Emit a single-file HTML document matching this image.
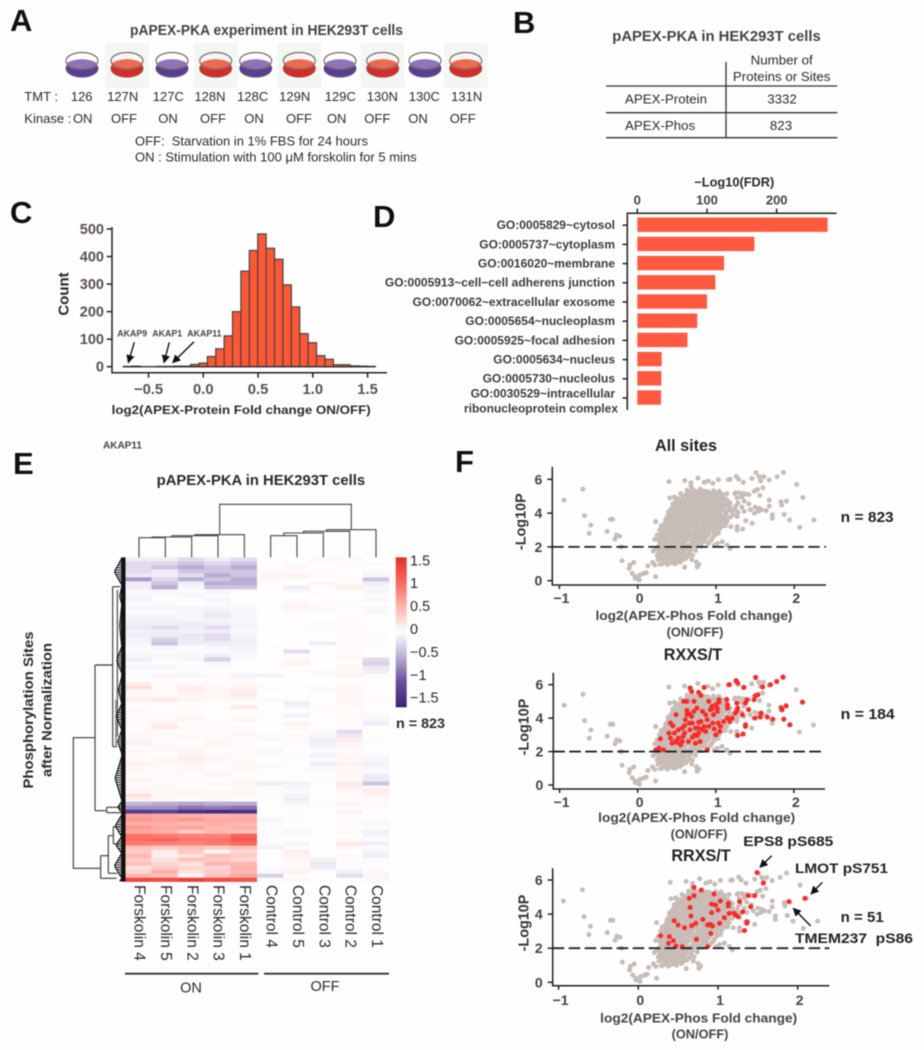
<!DOCTYPE html>
<html lang="en">
<head>
<meta charset="utf-8">
<title>pAPEX-PKA figure</title>
<style>
html,body{margin:0;padding:0;background:#fefefe;}
svg{display:block;filter:blur(.5px);}
text{font-family:"Liberation Sans",sans-serif;fill:#2a2a2a;}
.b{font-weight:bold;}
.panel{font-weight:bold;font-size:31px;fill:#111;}
</style>
</head>
<body>
<svg id="fig" xmlns="http://www.w3.org/2000/svg" width="924" height="1050" viewBox="0 0 924 1050">
<defs>
<marker id="ah" viewBox="0 0 10 10" refX="9" refY="5" markerWidth="6" markerHeight="6" orient="auto-start-reverse"><path d="M0,0 L10,5 L0,10 Z" fill="#111"/></marker>
<linearGradient id="cbar" x1="0" y1="0" x2="0" y2="1">
<stop offset="0" stop-color="#e3302a"/><stop offset=".17" stop-color="#fb6a60"/><stop offset=".335" stop-color="#ffb7b0"/><stop offset=".5" stop-color="#ffffff"/><stop offset=".665" stop-color="#b9aed4"/><stop offset=".83" stop-color="#6a4f9e"/><stop offset="1" stop-color="#3b2173"/>
</linearGradient>
</defs>
<rect x="0" y="0" width="924" height="1050" fill="#fefefe"/>

<!-- Panel letters -->
<text class="panel" x="10" y="31">A</text>
<text class="panel" x="513" y="33">B</text>
<text class="panel" x="10" y="223">C</text>
<text class="panel" x="373" y="227">D</text>
<text class="panel" x="13" y="474">E</text>
<text class="panel" x="455" y="472">F</text>

<!-- Panel A -->
<text class="b" x="130" y="35" font-size="14.5" textLength="273" lengthAdjust="spacingAndGlyphs" style="fill:#444">pAPEX-PKA experiment in HEK293T cells</text>
<g id="dishes"></g>
<text x="24.3" y="101" font-size="13">TMT :</text>
<text x="24.3" y="123" font-size="13">Kinase :</text>
<text x="135" y="145.5" font-size="12.5" textLength="233" lengthAdjust="spacingAndGlyphs">OFF:&#160; Starvation in 1% FBS for 24 hours</text>
<text x="135" y="161.5" font-size="12.5" textLength="281.7" lengthAdjust="spacingAndGlyphs">ON : Stimulation with 100 μM forskolin for 5 mins</text>

<!-- Panel B -->
<g>
<text class="b" x="612.3" y="41" font-size="14.7" textLength="208.4" lengthAdjust="spacingAndGlyphs" style="fill:#444">pAPEX-PKA in HEK293T cells</text>
<path d="M726,62V137.7M606,86H837.3M606,112.7H837.3M606,137.7H837.3" stroke="#333" stroke-width="1.3" fill="none"/>
<text x="781.7" y="64.5" font-size="13.3" text-anchor="middle">Number of</text>
<text x="781.7" y="81" font-size="13.3" text-anchor="middle">Proteins or Sites</text>
<text x="625" y="103.3" font-size="13.3">APEX-Protein</text>
<text x="782" y="103.3" font-size="13.3" text-anchor="middle">3332</text>
<text x="625" y="130" font-size="13.3">APEX-Phos</text>
<text x="781" y="130" font-size="13.3" text-anchor="middle">823</text>
</g>

<!-- Panel C -->
<g id="hist"></g>
<text class="b" x="68.5" y="294" font-size="15" text-anchor="middle" transform="rotate(-90 68.5 294)">Count</text>
<text class="b" x="111.7" y="414" font-size="12.2" textLength="259" lengthAdjust="spacingAndGlyphs">log2(APEX-Protein Fold change ON/OFF)</text>
<text class="b" x="117.3" y="336.5" font-size="8.8" style="fill:#444">AKAP9</text>
<text class="b" x="152.3" y="336.5" font-size="8.8" style="fill:#444">AKAP1</text>
<text class="b" x="187.3" y="336.5" font-size="8.8" style="fill:#444">AKAP11</text>
<path d="M134.3,342.3L128.3,362.7" stroke="#111" stroke-width="1.4" marker-end="url(#ah)"/>
<path d="M169.3,342.3L164,362.7" stroke="#111" stroke-width="1.4" marker-end="url(#ah)"/>
<path d="M194,341.7L172.7,362.7" stroke="#111" stroke-width="1.4" marker-end="url(#ah)"/>

<!-- Panel D -->
<g id="gobars"></g>
<text class="b" x="734.3" y="186.5" font-size="12.8" text-anchor="middle">−Log10(FDR)</text>

<!-- Stray label -->
<text class="b" x="103" y="448.5" font-size="10" style="fill:#444">AKAP11</text>

<!-- Panel E -->
<text class="b" x="156.7" y="485" font-size="14.7" textLength="208.4" lengthAdjust="spacingAndGlyphs">pAPEX-PKA in HEK293T cells</text>
<g id="heat"></g>
<g id="rowtree" transform="translate(10,490) scale(.33333)" fill="none" stroke="#3a3a3a" stroke-width="3.4">
<path d="M272,1135H190V743H255M255,525V962M255,525H308M308,290V770M308,290H330M308,770H322M255,962H290M290,952V968M290,952H330M290,968H335M272,1097V1165M272,1097H295M272,1165H320M295,1037V1150M295,1037H310M295,1150H322M310,1010V1062M310,1010H330M310,1062H328M322,300V640M322,640V740"/>
<path d="M318,630V770" stroke="#888" stroke-width="5"/>
<path id="rowcomb" stroke="#111" stroke-width="3.2"/>
<path d="M340,202V1175" stroke="#111" stroke-width="13"/>
</g>
<g id="coltree"></g>
<g id="collabels"></g>
<path d="M125,973.7H258.3M264,973.7H389" stroke="#333" stroke-width="1.8" fill="none"/>
<text x="191" y="992.5" font-size="14.5" text-anchor="middle">ON</text>
<text x="325" y="991" font-size="14.5" text-anchor="middle">OFF</text>
<text class="b" x="33" y="710" font-size="14" text-anchor="middle" textLength="157" lengthAdjust="spacingAndGlyphs" transform="rotate(-90 33 710)">Phosphorylation Sites</text>
<text class="b" x="51.5" y="710" font-size="14" text-anchor="middle" textLength="134" lengthAdjust="spacingAndGlyphs" transform="rotate(-90 51.5 710)">after Normalization</text>
<rect x="395.7" y="557.3" width="11" height="150" fill="url(#cbar)"/>
<g id="cblabels"></g>
<text class="b" x="396" y="728" font-size="14" textLength="49" lengthAdjust="spacingAndGlyphs">n = 823</text>

<!-- Panel F -->
<g id="scatters"></g>
<text class="b" x="686" y="451" font-size="16.2" text-anchor="middle" style="fill:#222">All sites</text>
<text class="b" x="693" y="660" font-size="16.2" text-anchor="middle" style="fill:#222">RXXS/T</text>
<text class="b" x="701" y="861" font-size="16.2" text-anchor="middle" style="fill:#222">RRXS/T</text>
<text class="b" x="840.7" y="522" font-size="14.5" textLength="53" lengthAdjust="spacingAndGlyphs" style="fill:#222">n = 823</text>
<text class="b" x="840.7" y="719" font-size="14.5" textLength="54" lengthAdjust="spacingAndGlyphs" style="fill:#222">n = 184</text>
<text class="b" x="840.7" y="922" font-size="14.5" textLength="43" lengthAdjust="spacingAndGlyphs" style="fill:#222">n = 51</text>
<text class="b" x="694" y="620" font-size="12.8" text-anchor="middle" textLength="197" lengthAdjust="spacingAndGlyphs" style="fill:#444">log2(APEX-Phos Fold change)</text>
<text class="b" x="695" y="636.5" font-size="12.8" text-anchor="middle" style="fill:#444">(ON/OFF)</text>
<text class="b" x="696.7" y="822" font-size="12.8" text-anchor="middle" textLength="197" lengthAdjust="spacingAndGlyphs" style="fill:#444">log2(APEX-Phos Fold change)</text>
<text class="b" x="699" y="838.5" font-size="12.8" text-anchor="middle" style="fill:#444">(ON/OFF)</text>
<text class="b" x="698.7" y="1022.5" font-size="12.8" text-anchor="middle" textLength="197" lengthAdjust="spacingAndGlyphs" style="fill:#444">log2(APEX-Phos Fold change)</text>
<text class="b" x="700" y="1038.5" font-size="12.8" text-anchor="middle" style="fill:#444">(ON/OFF)</text>
<text class="b" x="525.5" y="521.7" font-size="14.4" text-anchor="middle" transform="rotate(-90 525.5 521.7)" style="fill:#333">-Log10P</text>
<text class="b" x="528.5" y="727" font-size="14.4" text-anchor="middle" transform="rotate(-90 528.5 727)" style="fill:#333">-Log10P</text>
<text class="b" x="528.5" y="923" font-size="14.4" text-anchor="middle" transform="rotate(-90 528.5 923)" style="fill:#333">-Log10P</text>
<text class="b" x="743.3" y="846" font-size="14" textLength="90" lengthAdjust="spacingAndGlyphs" style="fill:#222">EPS8 pS685</text>
<text class="b" x="795" y="873" font-size="14" textLength="93" lengthAdjust="spacingAndGlyphs" style="fill:#222">LMOT pS751</text>
<text class="b" x="795" y="943" font-size="14" textLength="118" lengthAdjust="spacingAndGlyphs" style="fill:#222">TMEM237&#160; pS86</text>
<path d="M771.7,855.7L760,867.3" stroke="#111" stroke-width="1.4" marker-end="url(#ah)"/>
<path d="M822.3,882.3L811,894" stroke="#111" stroke-width="1.4" marker-end="url(#ah)"/>
<path d="M810.7,926L793.3,908.3" stroke="#111" stroke-width="1.4" marker-end="url(#ah)"/>
</svg>

<script>
// ---- Panel A data ----
const tmtLabels = ['126','127N','127C','128N','128C','129N','129C','130N','130C','131N'];
const kinaseStates = ['ON','OFF','ON','OFF','ON','OFF','ON','OFF','ON','OFF'];

// ---- Panel C data ----
const histStart = -0.73;
const histBinWidth = 0.0767;
const histCounts = [1,2,0,0,1,1,2,2,8,13,37,65,112,200,347,422,482,430,390,297,217,120,87,40,27,7,7,3,2,1];
const histYTicks = [0,100,200,300,400,500];
const histXTicks = [-0.5,0,0.5,1,1.5];

// ---- Panel D data ----
const goTerms = ['GO:0005829~cytosol','GO:0005737~cytoplasm','GO:0016020~membrane','GO:0005913~cell−cell adherens junction','GO:0070062~extracellular exosome','GO:0005654~nucleoplasm','GO:0005925~focal adhesion','GO:0005634~nucleus','GO:0005730~nucleolus','GO:0030529~intracellular|ribonucleoprotein complex'];
const goValues = [273,168,124.5,112,100,86,72,35,34.5,34];
const goTicks = [0,100,200];

// ---- Panel E data ----
const heatColumns = ['Forskolin 4','Forskolin 5','Forskolin 2','Forskolin 3','Forskolin 1','Control 4','Control 5','Control 3','Control 2','Control 1'];
const colorbarTicks = [1.5,1,0.5,0,-0.5,-1,-1.5];
const heatRows = [
[-.2,-.2,-.3,-.2,-.3,0,0,.1,.1,0],
[-.3,-.3,-.4,-.3,-.4,.05,-.05,.05,.05,-.05],
[-.3,-.4,-.5,-.4,-.5,0,.1,0,.05,0],
[-.3,-.2,-.4,-.4,-.4,.1,.05,.05,0,-.05],
[-.25,-.2,-.3,-.5,-.4,.1,.15,.05,0,-.1],
[-.6,-.3,-.5,-.4,-.5,.1,.05,0,.05,-.4],
[-.2,-.4,-.2,-.5,-.5,.05,0,.1,.05,-.2],
[-.2,-.5,-.1,-.4,-.4,0,-.2,.05,.2,-.1],
[-.05,-.1,-.05,-.1,-.05,0,-.1,0,.05,-.1],
[-.1,-.05,-.1,-.05,0,0,0,.05,0,-.05],
[-.15,0,-.05,-.1,.02,.02,.05,0,.03,-.1],
[-.05,-.05,0,-.05,-.02,0,.1,.05,.05,0],
[-.1,-.1,-.1,-.1,-.05,.02,.15,.08,.05,-.05],
[-.05,-.05,-.1,-.2,-.1,.02,.05,.05,.02,-.1],
[-.1,-.1,-.1,-.25,-.1,0,.03,.02,.05,.05],
[-.15,-.15,-.1,-.15,-.1,.02,.05,0,.05,0],
[-.2,-.2,-.2,-.15,-.12,0,.02,-.05,.05,.03],
[-.25,-.3,-.2,-.3,-.15,.03,.05,-.05,.08,.05],
[-.15,-.2,-.15,-.2,-.1,.02,.02,-.02,.05,.02],
[-.2,-.2,-.25,-.3,-.15,0,.03,.05,.05,-.05],
[-.15,-.35,-.25,-.3,-.15,0,.05,.02,.08,.02],
[-.1,-.4,-.2,-.2,-.2,.03,.03,-.2,.05,.05],
[-.05,-.1,-.05,-.1,-.15,.05,.02,.02,.1,.05],
[-.05,-.05,-.05,-.05,-.1,0,-.3,.02,.05,.02],
[-.1,-.1,-.1,-.2,-.1,.02,.05,.03,.08,.02],
[-.2,-.05,-.1,-.35,-.05,.02,.1,.03,.1,-.3],
[-.05,-.05,0,-.1,-.05,.02,.15,.02,.05,-.35],
[-.1,-.1,-.05,-.05,0,.02,.02,0,.08,-.25],
[.05,.02,.05,.03,.03,.03,.03,.1,.1,-.2],
[-.05,-.1,-.1,-.05,-.15,-.15,-.02,.02,.12,-.05],
[.02,.05,.02,.05,.05,0,.02,.03,.02,.05],
[.2,.05,.05,.05,.1,-.03,.02,.02,.05,.02],
[.3,.08,.2,.1,.15,-.05,.05,-.05,.08,.05],
[.1,.05,.2,.12,.2,-.03,.02,-.08,.1,.03],
[.08,.05,.1,.1,.25,0,.02,.03,.08,.02],
[.2,.25,.12,.1,.1,-.05,-.05,.02,.1,.05],
[.05,.05,.03,.02,.05,.02,-.2,.05,.1,.05],
[.03,.03,.05,.05,.25,.02,-.1,.03,.08,.02],
[-.08,-.02,.03,.02,.02,.02,.02,.05,.05,.05],
[.05,.08,.1,.03,.05,-.02,-.15,.03,.1,-.08],
[.1,.05,.12,.03,.12,.05,.02,.02,.05,-.1],
[.05,.2,.05,.05,.03,.02,.15,.02,.08,-.2],
[.08,.25,.1,.05,.05,-.02,.08,.05,.05,.02],
[.05,.05,.05,.03,.08,0,.03,-.05,-.3,.05],
[.12,.1,.08,.05,.1,-.05,.05,-.1,-.25,.03],
[-.1,.05,.03,.1,.03,.1,.1,-.2,.2,.05],
[-.15,.03,.02,.1,.05,.02,-.05,-.2,.15,-.02],
[.05,.1,.1,.08,.08,-.05,.02,-.1,.08,.02],
[.1,.08,.1,.05,.05,-.08,-.03,-.05,.05,.03],
[.05,.05,.15,.08,.1,-.05,-.05,-.15,.08,-.05],
[.1,.12,.2,.1,.05,.02,.05,-.05,.1,-.1],
[.15,.1,.12,.08,.1,.05,.02,-.2,.15,-.15],
[.08,.05,.08,.05,.08,-.05,.05,-.1,.1,-.1],
[.1,.03,.1,-.05,.1,.03,.03,-.05,.08,-.05],
[.05,.05,.05,-.1,.05,.02,.02,.02,.12,-.2],
[.12,.08,.05,.05,.1,.02,-.03,-.05,.05,-.25],
[.05,.05,.03,.08,.12,-.2,-.15,.05,.25,-.4],
[.08,.1,.05,.02,.08,-.05,-.1,.03,.2,-.1],
[.1,.08,.1,.1,.1,.05,-.05,.03,.05,.2],
[.3,.1,.12,.1,.1,-.05,-.15,.02,.1,.15],
[.15,.08,.05,.08,.05,-.02,-.2,.02,.05,.05],
[-.45,-.5,-.55,-.5,-.5,-.03,-.1,-.05,.12,.08],
[-.65,-.65,-.8,-.75,-.8,.02,-.05,.02,.05,.05],
[-1.2,-1.1,-1.3,-1.35,-1.3,0,-.03,-.02,-.1,.02],
[.65,.6,.55,.5,.55,-.03,-.02,.03,.05,.05],
[.7,.65,.7,.6,.6,-.1,.05,.02,.03,.05],
[.55,.55,.5,.55,.5,-.05,-.02,-.02,.05,-.1],
[.7,.6,.65,.5,.55,.02,.05,.02,.02,-.05],
[.6,.55,.4,.5,.45,-.05,-.1,.03,.08,-.15],
[.95,.9,.85,.85,1.05,-.05,.05,-.02,.02,-.12],
[1,1.05,.95,.95,1.15,-.02,-.02,.03,.05,.05],
[.9,.85,.85,.9,1,-.05,-.1,.02,.25,-.2],
[.45,.4,.45,.4,.45,-.15,-.02,.05,.1,-.05],
[.4,.25,.4,.1,.35,.02,.2,-.02,.02,-.12],
[.5,.2,.3,.45,.4,-.03,.15,.02,.05,-.2],
[.4,.3,.45,.4,.35,.02,.1,-.15,.03,-.05],
[.45,.35,.3,.5,.5,-.02,.05,-.25,.05,.05],
[.3,.4,.35,.35,.55,-.05,.08,-.2,-.05,.02],
[.35,.55,.3,.4,.5,-.08,.15,-.02,-.15,.08],
[.5,.45,.1,.45,.6,-.35,.05,.02,-.3,-.1],
[1.3,1.25,1.35,1.25,1.2,.05,.1,.05,.03,-.08]
];
const colTreeOnMerges = [[0,1,143],[null,2,141],[null,3,137],[null,4,134]];
const colTreeOffMerges = [[5,6,137],[null,7,129],[null,8,124],[null,9,119]];
const colTreeRootHeight = 43;

// ---- Panel F data: [log2 fold change, -log10 P] ----
const thresholdP = 2;
const scatterXTicks = [-1,0,1,2];
const scatterYTicks = [0,2,4,6];
const allSites = [
[-.94,4.77],[-.7,5.42],[-.68,3.85],[-.6,3.29],[-.62,2.8],[-.39,2.92],[-.35,3.63],[-.32,3.63],[-.23,2.64],[-.29,2.47],[-.27,2.7],[-.21,2],[-.2,1.18],[-.05,1.08],[-.1,.93],[-.11,.73],[-.07,.43],[-.03,.24],[.01,.1],[.03,.34],[.08,.43],[.11,.47],[-.03,.14],[.02,.05],[.23,.24],[.13,.87],[.19,1.08],[.22,.93],[.29,.97],
[.4,5.86],[.6,5.92],[.68,5.8],[.68,5.6],[.77,6.07],[.85,5.82],[.9,5.9],[.96,5.76],[1.03,5.98],[1.16,5.98],[1.18,6],[1.26,6.17],[1.29,6],[1.35,5.82],[1.46,6.05],[1.51,6.39],[1.55,6.15],[1.61,6.15],[1.57,5.9],[1.68,5.96],[1.78,6.15],[1.86,6.41],[2.03,5.7],[2.11,4.93],[2.25,3.59],[2.07,3.16],[1.94,3.59],[1.87,3.92],[1.83,4.67],[1.84,4.48],[1.9,4.71],[1.68,4.77],[1.68,4.42],[1.72,3.89],[1.72,3.69],[1.58,4.2],[1.64,4.15],[1.55,4.28],[1.49,4],[1.54,4.1],[1.46,3.4],[1.38,3.55],[1.27,3.2],[1.34,3.05],[1.27,3],[1.42,4.55],[1.5,4.35],[1.56,5.05],[1.49,5.3],[1.53,5.4],[1.6,5.5],[1.42,5.1],[1.35,5.15],[1.25,5.2],[1.19,3.2],[1.12,3.25],[1.05,3.25],[1.14,2.1],[1.18,1.9],[1.02,2.2],[.98,2.1],[1.08,2.3],
[.24,1.9],[.2,1.75],[.27,1.68],[.3,1.85],[.33,1.95],[.37,1.8],[.42,1.9],[.47,1.85],[.52,1.92],[.57,1.8],[.62,1.9],[.68,1.85],[.74,1.78],[.25,1.5],[.29,1.55],[.33,1.6],[.38,1.5],[.43,1.62],[.48,1.48],[.53,1.55],[.58,1.6],[.64,1.45],[.7,1.5],[.26,1.25],[.31,1.3],[.36,1.2],[.41,1.35],[.45,1.25],[.5,1.3],[.56,1.2],[.61,1.3],[.69,1.25],[.75,1.1],[.31,1],[.38,.95],[.44,1.05],[.48,1],[.54,1.1],[.6,.8],[.77,.9],[.78,.96],[.76,.82],
[.22,2.45],[.28,2.3],[.33,2.2],[.38,2.25],[.43,2.1],[.49,2.2],[.54,2.15],[.6,2.25],[.66,2.1],[.72,2.2],[.78,2.15],[.84,2.3],[.9,2.2],
[.25,2.7],[.3,2.6],[.35,2.55],[.4,2.62],[.46,2.5],[.52,2.58],[.58,2.52],[.64,2.6],[.7,2.5],[.76,2.58],[.82,2.5],[.88,2.6],[.95,2.5],
[.28,3],[.32,2.9],[.37,2.85],[.42,2.92],[.48,2.82],[.54,2.9],[.6,2.84],[.66,2.92],[.72,2.82],[.78,2.9],[.84,2.84],[.9,2.92],[.97,2.85],[1.03,2.8],
[.23,3.5],[.3,3.25],[.35,3.2],[.4,3.15],[.46,3.22],[.52,3.12],[.58,3.2],[.64,3.14],[.7,3.22],[.76,3.12],[.82,3.2],[.88,3.14],[.94,3.22],[1,3.12],[1.07,3.2],
[.36,3.5],[.41,3.45],[.47,3.5],[.53,3.42],[.59,3.5],[.65,3.44],[.71,3.52],[.77,3.42],[.83,3.5],[.89,3.44],[.95,3.52],[1.01,3.42],[1.08,3.5],[1.14,3.5],
[.38,3.78],[.43,3.72],[.49,3.78],[.55,3.72],[.61,3.8],[.67,3.72],[.73,3.8],[.79,3.72],[.85,3.8],[.91,3.72],[.97,3.8],[1.03,3.72],[1.1,3.78],[1.18,3.75],[1.27,3.8],
[.39,4.05],[.45,4],[.51,4.06],[.57,4],[.63,4.08],[.69,4],[.75,4.08],[.81,4],[.87,4.08],[.93,4],[.99,4.08],[1.05,4],[1.12,4.05],[1.2,4.1],[1.28,4.05],[1.36,4.1],[1.44,4.2],
[.44,4.3],[.5,4.35],[.56,4.28],[.62,4.36],[.68,4.3],[.74,4.36],[.8,4.28],[.86,4.36],[.92,4.3],[.98,4.36],[1.04,4.28],[1.1,4.35],[1.18,4.32],[1.25,4.4],[1.33,4.35],
[.41,4.9],[.45,4.55],[.5,4.62],[.56,4.55],[.62,4.62],[.68,4.56],[.74,4.64],[.8,4.56],[.86,4.64],[.92,4.56],[.98,4.64],[1.04,4.56],[1.1,4.64],[1.18,4.6],[1.28,4.6],[1.36,4.7],
[.47,4.95],[.52,4.85],[.58,4.9],[.64,4.84],[.7,4.92],[.76,4.84],[.82,4.92],[.88,4.84],[.94,4.92],[1,4.84],[1.06,4.92],[1.12,4.85],[1.27,4.9],[1.33,4.95],
[.55,5.15],[.62,5.1],[.68,5.18],[.74,5.1],[.8,5.18],[.86,5.1],[.92,5.16],[.98,5.12],[1.03,5.2],[1.08,5.1],[1.14,5.15],[1.24,5.15],[1.3,5.2],[1.38,5.12],
[.63,5.35],[.7,5.4],[.73,5.3],[.8,5.42],[.86,5.3],[.97,5.32],[1.04,5.3],
[.27,2.05],[.31,2.08],[.36,2.02],[.41,2.04],[.46,2],[.51,2.05],[.57,2.02],[.63,2.03],[.69,2],[.75,2.03],[.81,2.04],
[.27,2.42],[.31,2.45],[.36,2.4],[.41,2.38],[.46,2.36],[.52,2.4],[.57,2.35],[.63,2.42],[.69,2.35],[.74,2.4],[.8,2.36],[.86,2.44],[.93,2.36],
[.3,2.78],[.34,2.74],[.39,2.78],[.45,2.72],[.5,2.74],[.56,2.7],[.62,2.76],[.67,2.7],[.73,2.72],[.79,2.72],[.85,2.7],[.91,2.76],[.98,2.68],
[.34,3.06],[.39,3.02],[.45,3.06],[.5,3],[.56,3.05],[.62,3],[.68,3.08],[.74,2.98],[.8,3.05],[.86,3],[.92,3.06],[.98,3],[1.04,3.02],
[.34,3.36],[.38,3.32],[.44,3.36],[.5,3.3],[.56,3.35],[.62,3.3],[.68,3.38],[.74,3.28],[.8,3.36],[.86,3.3],[.92,3.36],[.98,3.3],[1.04,3.36],[1.11,3.34],
[.36,3.64],[.41,3.6],[.46,3.64],[.52,3.58],[.58,3.65],[.64,3.6],[.7,3.66],[.76,3.58],[.82,3.65],[.88,3.6],[.94,3.66],[1,3.58],[1.05,3.63],[1.12,3.65],
[.4,3.92],[.46,3.88],[.52,3.92],[.58,3.86],[.64,3.93],[.7,3.86],[.76,3.94],[.82,3.86],[.88,3.93],[.94,3.86],[1,3.94],[1.06,3.88],[1.13,3.92],[1.22,3.92],
[.42,4.18],[.48,4.18],[.54,4.14],[.6,4.22],[.66,4.16],[.72,4.22],[.78,4.14],[.84,4.22],[.9,4.16],[.96,4.22],[1.02,4.14],[1.08,4.2],[1.16,4.18],[1.24,4.22],
[.47,4.46],[.53,4.46],[.59,4.42],[.65,4.48],[.71,4.42],[.77,4.5],[.83,4.42],[.89,4.5],[.95,4.44],[1.01,4.5],[1.07,4.42],[1.14,4.47],
[.49,4.74],[.54,4.72],[.6,4.76],[.66,4.7],[.72,4.78],[.78,4.7],[.84,4.78],[.9,4.7],[.96,4.78],[1.02,4.7],[1.08,4.78],[1.15,4.72],
[.58,5.02],[.65,4.98],[.71,5.04],[.77,4.97],[.83,5.04],[.89,4.98],[.95,5.04],[1.01,4.98],[1.08,5],
[.66,5.26],[.76,5.25],[.83,5.27],[.9,5.26],
[.29,1.4],[.35,1.4],[.4,1.42],[.46,1.4],[.51,1.42],[.56,1.38],[.62,1.42],[.34,1.72],[.4,1.7],[.45,1.72],[.5,1.68],[.55,1.7],[.6,1.72],[.66,1.66],[.35,1.08],[.42,1.14],[.47,1.14],[.52,1.2]
];
const rxxstSites = [
[.29,2.76],[.27,2.2],[.33,2.1],[.23,2.1],[.4,3.1],[.42,2.8],[.44,2.5],[.48,2.6],[.52,2.8],[.57,2.6],[.55,2.4],[.42,3.7],[.45,3.54],[.49,4.2],[.52,3.3],[.57,3.4],[.61,3.9],[.63,4.2],[.63,4.46],[.66,3.7],[.67,3.3],[.69,4.1],[.7,3.7],[.73,3],[.74,2.5],[.78,3.4],[.78,3.1],[.81,3.8],[.85,3.5],[.87,4.2],[.89,3.9],[.91,3.5],[.93,4.5],[.95,4.7],[1,4.8],[1.02,4.6],[1.04,5.1],[1.06,3.5],[1.05,3.2],[1,3],[.89,2.1],[.87,3.2],[.67,5.8],[.69,5.6],[.78,5.54],[.81,5.36],[.85,5.84],[.72,5],[.63,5],[.59,5],[.76,4.6],[.91,5],[.95,4.55],[1.17,6],[1.14,5.1],[1.26,6.24],[1.28,6.1],[1.36,5.84],[1.51,6.44],[1.6,5.86],[1.7,6],[1.78,6.2],[1.86,6.46],[2.11,4.96],[1.9,4.74],[1.84,4.6],[1.85,4.5],[1.87,3.94],[1.95,3.6],[1.73,3.94],[1.66,4.06],[1.58,4.3],[1.57,4.06],[1.5,4],[1.42,4.5],[1.49,5.1],[1.54,5.4],[1.51,5.34],[1.4,5.1],[1.38,4.9],[1.27,4.9],[1.28,4.6],[1.27,4.4],[1.25,4.3],[1.21,4],[1.15,4],[1.18,3.8],[1.34,4.2],[1.15,4.6],[1.15,4.8],[1.38,3.6],[1.38,3.5],[1.28,2.96],[1.35,3.04],[1.1,3.8],[1.02,4.4],[1.04,4.95],
[.47,3.1],[.5,2.55],[.58,2.9],[.6,3.1],[.65,2.6],[.7,2.85],[.76,2.95],[.8,2.6],[.83,3.3],[.96,3.7],[.98,3.35],[.6,3.55],[.66,4.25],[.72,4.4],[.74,3.4],[.78,3.75],[.83,4.4],[.97,4.2],[1.03,3.7]
];
const rrxstSites = [
[.28,2.73],[.38,2.29],[.39,2.68],[.44,2.44],[.47,2.13],[.55,2.09],[.45,3.61],[.5,3.36],[.58,3.2],[.67,3.32],[.72,3.46],[.73,2.52],[.66,3.89],[.65,4.39],[.64,4.92],[.7,5.08],[.7,5.57],[.79,5.41],[.81,3.69],[.87,3.36],[.9,3.4],[.93,3.3],[.91,2.87],[.87,2.09],[1.02,3.46],[.92,4.08],[1,4.24],[.92,4.59],[.97,4.53],[1.03,4.77],[.95,5.18],[1.08,3.79],[1.14,4.04],[1.13,4.47],[1.13,4.63],[1.2,4.04],[1.22,3.95],[1.25,3.85],[1.27,4.73],[1.31,4.14],[1.41,4.43],[1.36,3.55],[1.36,3.46],[1.33,3.03],[1.38,5.08],[1.46,5.08],[1.49,6.43],[1.57,5.82],[1.89,4.73],[2.09,4.92]
];

// ---- helpers ----
const NS = 'http://www.w3.org/2000/svg';
function el(parent, tag, attrs, txt) {
  const e = document.createElementNS(NS, tag);
  for (const k in attrs) e.setAttribute(k, attrs[k]);
  if (txt !== undefined) e.textContent = txt;
  parent.appendChild(e);
  return e;
}
function fmt(v) { return String(v).replace('-', '−'); }
function oneDec(v) { return fmt(v.toFixed(1)); }
const G = id => document.getElementById(id);

// ---- Panel A ----
(function () {
  const g = G('dishes');
  const dishX = [82, 127, 172, 215.7, 255.7, 299.3, 340, 382.7, 425, 465.7];
  const tmtX = [81.7, 122.7, 168.3, 210, 252.7, 294.7, 340.3, 382.3, 424.3, 466.7];
  const kinX = [82.7, 124, 168, 213, 254, 299, 336.7, 377.3, 418, 462.7];
  const svg = G('fig');
  tmtLabels.forEach((lab, i) => {
    const cx = dishX[i];
    const off = kinaseStates[i] === 'OFF';
    if (off) {
      const bg = el(g, 'rect', { x: cx - 22, y: 43, width: 44, height: 44.7, fill: '#f3f7f4' });
      
      
    }
    const body = el(g, 'ellipse', { cx: cx, cy: 68.5, rx: 16.2, ry: 8.8, fill: off ? '#d62c26' : '#5a3f90', stroke: '#7a6a6a', 'stroke-width': .6 });
    
    
    const liq = el(g, 'ellipse', { cx: cx, cy: 64.5, rx: 15, ry: 5.2, fill: off ? '#ea6c50' : '#8f74b8' });
    
    
    const rim = el(g, 'ellipse', { cx: cx, cy: 60.8, rx: 16, ry: 8.3, fill: 'none', stroke: '#7d6b6b', 'stroke-width': 1.2 });
    
    
    const t = el(svg, 'text', { x: tmtX[i], y: 101, 'font-size': 13, 'text-anchor': 'middle' }, lab);
    
    
    const k = el(svg, 'text', { x: kinX[i], y: 123, 'font-size': 13, 'text-anchor': 'middle' }, kinaseStates[i]);
    
    
  });
})();

// ---- Panel C ----
(function () {
  const g = G('hist');
  const x = v => 203.3 + v * 109.5;
  const y = v => 366.7 - v * 0.2754;
  histCounts.forEach((c, i) => {
    const x0 = x(histStart + i * histBinWidth);
    const x1 = x(histStart + (i + 1) * histBinWidth);
    const r = el(g, 'rect', { x: x0, y: y(c), width: x1 - x0, height: y(0) - y(c), fill: '#ff5733', stroke: '#4a4a4a', 'stroke-width': 1.3 });
    
    
  });
  const base = el(g, 'line', { x1: x(histStart), x2: x(histStart + histCounts.length * histBinWidth), y1: y(0), y2: y(0), stroke: '#333', 'stroke-width': 1.4 });
  
  
  const ax = el(g, 'path', { d: 'M112,227V372.7H387', fill: 'none', stroke: '#222', 'stroke-width': 1.5 });
  
  
  histYTicks.forEach(v => {
    const tk = el(g, 'path', { d: `M106.7,${y(v)}H112`, stroke: '#222', 'stroke-width': 1.5 });
    
    
    const t = el(g, 'text', { x: 104, y: y(v) + 4.9, 'font-size': 14.5, 'font-weight': 'bold', 'text-anchor': 'end', style: 'fill:#5a5050' }, String(v));
    
    
  });
  histXTicks.forEach(v => {
    const tk = el(g, 'path', { d: `M${x(v)},372.7v5`, stroke: '#222', 'stroke-width': 1.5 });
    
    
    const t = el(g, 'text', { x: x(v), y: 394, 'font-size': 14.8, 'font-weight': 'bold', 'text-anchor': 'middle', style: 'fill:#5a5050' }, oneDec(v));
    
    
  });
})();

// ---- Panel D ----
(function () {
  const g = G('gobars');
  const x = v => 637.3 + v * 0.697;
  const yc = i => 224.7 + i * 19.2;
  goTerms.forEach((term, i) => {
    const r = el(g, 'rect', { x: x(0), y: yc(i) - 7.2, width: x(goValues[i]) - x(0), height: 14.4, fill: '#ff5a3f' });
    
    
    const tk = el(g, 'path', { d: `M622.5,${yc(i) + .5}H627.3`, stroke: '#222', 'stroke-width': 1.5 });
    
    
    const lines = term.split('|');
    if (lines.length === 1) {
      const t = el(g, 'text', { x: 615, y: yc(i) + 4.4, 'font-size': 12, 'font-weight': 'bold', 'text-anchor': 'end', style: 'fill:#3c3c3c' }, term);
      
      
    } else {
      const t1 = el(g, 'text', { x: 615, y: yc(i) + .2, 'font-size': 12, 'font-weight': 'bold', 'text-anchor': 'end', style: 'fill:#3c3c3c' }, lines[0]);
      
      
      const t2 = el(g, 'text', { x: 618, y: yc(i) + 15.2, 'font-size': 12, 'font-weight': 'bold', 'text-anchor': 'end', style: 'fill:#3c3c3c' }, lines[1]);
      
      
    }
  });
  const ax = el(g, 'path', { d: 'M627.3,410V213.3H836.7', fill: 'none', stroke: '#222', 'stroke-width': 1.5 });
  
  
  goTicks.forEach(v => {
    const tk = el(g, 'path', { d: `M${x(v)},208.5V213.3`, stroke: '#222', 'stroke-width': 1.5 });
    
    
    const t = el(g, 'text', { x: x(v), y: 204.5, 'font-size': 13, 'font-weight': 'bold', 'text-anchor': 'middle', style: 'fill:#444' }, String(v));
    
    
  });
})();

// ---- Panel E ----
const colorStopsV = [-1.5, -1, -.5, -.25, 0, .25, .5, 1, 1.5];
const colorStopsC = [[59,33,115],[106,79,158],[185,174,212],[236,232,244],[255,255,255],[255,234,232],[255,183,176],[251,106,96],[227,48,42]];
function heatColor(v) {
  const c = Math.max(-1.5, Math.min(1.5, v));
  let i = 0;
  while (i < colorStopsV.length - 2 && c > colorStopsV[i + 1]) i++;
  const f = (c - colorStopsV[i]) / (colorStopsV[i + 1] - colorStopsV[i]);
  const a = colorStopsC[i], b = colorStopsC[i + 1];
  return `rgb(${Math.round(a[0] + (b[0] - a[0]) * f)},${Math.round(a[1] + (b[1] - a[1]) * f)},${Math.round(a[2] + (b[2] - a[2]) * f)})`;
}
(function () {
  const g = G('heat');
  const left = 125, top = 557.3, w = 26.4, h = (881.7 - 557.3) / heatRows.length;
  heatRows.forEach((row, r) => {
    row.forEach((v, c) => {
      const cell = el(g, 'rect', { x: left + c * w, y: top + r * h, width: w + .2, height: h + .2, fill: heatColor(v) });
      
      
    });
  });
  // column labels
  const lg = G('collabels');
  const cx = i => left + (i + .5) * w + 1.8;
  heatColumns.forEach((name, i) => {
    const px = cx(i) - 5.5;
    const t = el(lg, 'text', { x: px, y: 885, 'font-size': 15.5, transform: `rotate(90 ${px} 885)` }, name);
    
    
  });
  // column dendrogram
  const ct = G('coltree');
  const lx = i => 10 + (387 + i * 79) / 3;
  const hy = z => 490 + z / 3;
  function drawTree(merges) {
    let curX = null, curY = null, d = '';
    merges.forEach(m => {
      const a = m[0] === null ? curX : lx(m[0]);
      const ay = m[0] === null ? curY : hy(202);
      const b = lx(m[1]);
      const y = hy(m[2]);
      d += `M${a},${ay}V${y}H${b}V${hy(202)}`;
      curX = (a + b) / 2;
      curY = y;
    });
    return { d, x: curX, y: curY };
  }
  const on = drawTree(colTreeOnMerges);
  const offT = drawTree(colTreeOffMerges);
  const rootY = hy(colTreeRootHeight);
  const p = el(ct, 'path', { d: on.d + offT.d + `M${on.x},${on.y}V${rootY}H${offT.x}V${offT.y}`, fill: 'none', stroke: '#444', 'stroke-width': 1.1 });
  
  
  // colorbar labels
  const cb = G('cblabels');
  colorbarTicks.forEach(v => {
    const t = el(cb, 'text', { x: 410, y: 629 - v * 45.8 + 5, 'font-size': 14.5 }, fmt(v));
    
    
  });
  // leaf comb for the row dendrogram (decorative)
  const clusters = [[205,285,22],[290,345,6],[345,470,6],[470,550,15],[560,640,10],[640,720,16],[720,790,12],[800,930,20],[935,968,12],[975,1040,20],[1040,1090,18],[1090,1165,22],[1165,1175,8]];
  let d = '';
  clusters.forEach(cl => {
    const [y0, y1, dp] = cl;
    let first = true;
    for (let yy = y0; yy <= y1; yy += 7) {
      const f = 1 - Math.abs(2 * (yy - y0) / (y1 - y0) - 1);
      const xx = 335 - dp * f;
      d += (first ? 'M' : 'L') + xx + ',' + yy + 'H336M' + xx + ',' + yy;
      first = false;
    }
  });
  G('rowcomb').setAttribute('d', d);
})();

// ---- Panel F ----
const scatterPanels = [
  { key: 'all-sites', x0: 637.7, kx: 78.3, y0: 580.7, ky: 16.9, axX: 552.3, axTop: 466.7, axY: 585, axEnd: 826, reds: [], xLabY: 603 },
  { key: 'rxxst', x0: 637.7, kx: 78.1, y0: 785, ky: 16.72, axX: 553.3, axTop: 672.7, axY: 789, axEnd: 825, reds: rxxstSites, xLabY: 807 },
  { key: 'rrxst', x0: 638.3, kx: 79.7, y0: 982.3, ky: 17.05, axX: 552.7, axTop: 868.3, axY: 985.7, axEnd: 829.3, reds: rrxstSites, xLabY: 1005 }
];
(function () {
  const root = G('scatters');
  scatterPanels.forEach(p => {
    const g = el(root, 'g', {});
    
    
    const x = v => p.x0 + v * p.kx;
    const y = v => p.y0 - v * p.ky;
    allSites.forEach(pt => {
      const c = el(g, 'circle', { cx: x(pt[0]), cy: y(pt[1]), r: 2.5, fill: '#c8bcb6' });
      
      
    });
    p.reds.forEach(pt => {
      const c = el(g, 'circle', { cx: x(pt[0]), cy: y(pt[1]), r: 2.5, fill: '#fb2a28' });
      
      
    });
    const th = el(g, 'line', { x1: p.axX, x2: p.axEnd, y1: y(thresholdP), y2: y(thresholdP), stroke: '#222', 'stroke-width': 1.8, 'stroke-dasharray': '11.5 4.5' });
    
    
    const ax = el(g, 'path', { d: `M${p.axX},${p.axTop}V${p.axY}H${p.axEnd}`, fill: 'none', stroke: '#222', 'stroke-width': 1.5 });
    
    
    scatterYTicks.forEach(v => {
      const tk = el(g, 'path', { d: `M${p.axX - 5},${y(v)}H${p.axX}`, stroke: '#222', 'stroke-width': 1.5 });
      
      
      const t = el(g, 'text', { x: p.axX - 10, y: y(v) + 5, 'font-size': 14, 'font-weight': 'bold', 'text-anchor': 'end', style: 'fill:#4a4040' }, String(v));
      
      
    });
    scatterXTicks.forEach(v => {
      const tk = el(g, 'path', { d: `M${x(v)},${p.axY}v4`, stroke: '#222', 'stroke-width': 1.5 });
      
      
      const t = el(g, 'text', { x: x(v) + 2, y: p.xLabY, 'font-size': 14, 'font-weight': 'bold', 'text-anchor': 'middle', style: 'fill:#4a4040' }, fmt(v));
      
      
    });
  });
})();
</script>
</body>
</html>
